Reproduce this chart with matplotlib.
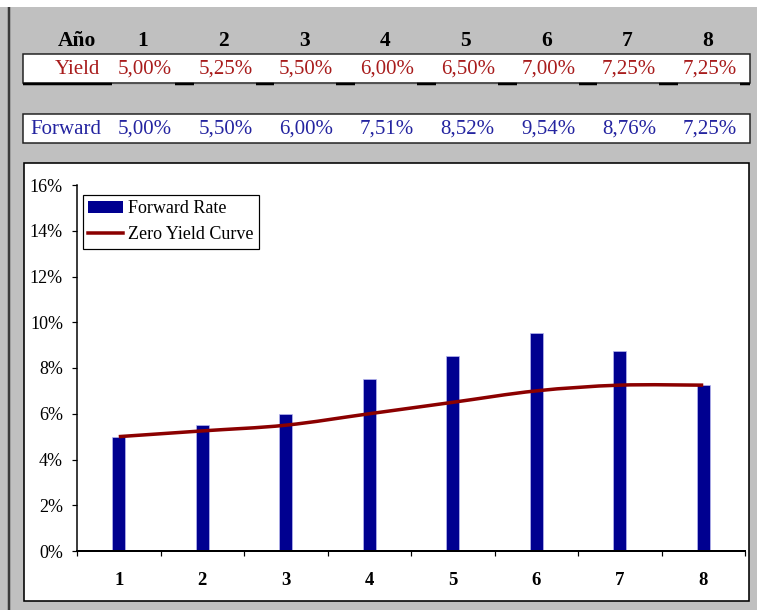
import numpy as np
import matplotlib
matplotlib.use("Agg")
import matplotlib.pyplot as plt
from matplotlib.patches import Rectangle, PathPatch
from matplotlib.path import Path
from matplotlib.lines import Line2D

# Data
years = [1, 2, 3, 4, 5, 6, 7, 8]
yield_pct = [5.00, 5.25, 5.50, 6.00, 6.50, 7.00, 7.25, 7.25]
forward_pct = [5.00, 5.50, 6.00, 7.51, 8.52, 9.54, 8.76, 7.25]
y_ticks = [0, 2, 4, 6, 8, 10, 12, 14, 16]

SERIF = ["Liberation Serif", "DejaVu Serif"]
BAR_COLOR = "#000090"
LINE_COLOR = "#8b0000"
RED_TXT = "#a81c1c"
BLUE_TXT = "#2424a0"
GRAY = "#c0c0c0"

W, H = 757, 610
PX = 0.72  # points per pixel at dpi 100


def pct(v):
    return f"{v:.2f}%".replace(".", ",")


fig = plt.figure(figsize=(W / 100, H / 100), dpi=100, facecolor=GRAY)

# Background layer in pixel coordinates (sheet, table cells, chart frame)
bg = fig.add_axes([0, 0, 1, 1], zorder=0)
bg.set_xlim(0, W)
bg.set_ylim(H, 0)
bg.axis("off")

bg.add_patch(Rectangle((0, 0), W, 7, facecolor="white", edgecolor="none"))
bg.plot([9, 9], [7, H], color="#3a3a3a", lw=2.5 * PX, solid_capstyle="butt")

# Table geometry
x0, x1 = 23, 750
cell0 = 113
step = 80.7
ncol = len(years)

# Header row
hdr_kw = dict(family=SERIF, fontsize=15.5, fontweight="bold", color="black",
              ha="center", va="center")
bg.text(77, 41, "Año", **hdr_kw)
for i, yr in enumerate(years):
    bg.text(143 + step * i, 41, str(yr), **hdr_kw)

# Yield row
bg.add_patch(Rectangle((x0, 54), x1 - x0, 29, facecolor="white",
                       edgecolor="#202020", lw=1.5 * PX, zorder=2))
bg.plot([x0, cell0 - 1], [83.5, 83.5], color="black", lw=2.5 * PX,
        solid_capstyle="butt", zorder=3)
for i in range(ncol):
    s = cell0 + step * i
    bg.plot([s, s + 62], [83, 83], color="#505050", lw=1.2 * PX,
            solid_capstyle="butt", zorder=3)
    bg.plot([s + 62, min(s + step, x1)], [84, 84], color="black",
            lw=2.5 * PX, solid_capstyle="butt", zorder=3)

row_kw = dict(family=SERIF, fontsize=15, va="center")
bg.text(100, 69, "Yield", ha="right", color=RED_TXT, **row_kw)
for i, v in enumerate(yield_pct):
    bg.text(172 + step * i, 69, pct(v), ha="right", color=RED_TXT, **row_kw)

# Forward row
bg.add_patch(Rectangle((x0, 114), x1 - x0, 29, facecolor="white",
                       edgecolor="#202020", lw=1.5 * PX, zorder=2))
bg.text(30, 129, "Forward", ha="left", color=BLUE_TXT, **row_kw)
for i, v in enumerate(forward_pct):
    bg.text(172 + step * i, 129, pct(v), ha="right", color=BLUE_TXT, **row_kw)

# Chart frame
bg.add_patch(Rectangle((24, 163), 725, 438, facecolor="white",
                       edgecolor="black", lw=1.6 * PX, zorder=2))

# Chart axes
ax = fig.add_axes([77 / W, (H - 551) / H, (745 - 77) / W, (551 - 185) / H],
                  zorder=1)
ax.patch.set_visible(False)

ax.bar(years, forward_pct, width=0.16, color=BAR_COLOR, edgecolor="#b8b8f0",
       linewidth=0.5, zorder=2, label="Forward Rate")

# Smoothed yield curve (cubic Bezier through each point)
xs = np.array(years, dtype=float)
ys = np.array(yield_pct, dtype=float)
verts = [(xs[0], ys[0])]
codes = [Path.MOVETO]
n = len(xs)
for i in range(n - 1):
    p0 = (xs[max(i - 1, 0)], ys[max(i - 1, 0)])
    p1 = (xs[i], ys[i])
    p2 = (xs[i + 1], ys[i + 1])
    p3 = (xs[min(i + 2, n - 1)], ys[min(i + 2, n - 1)])
    c1 = (p1[0] + (p2[0] - p0[0]) / 6, p1[1] + (p2[1] - p0[1]) / 6)
    c2 = (p2[0] - (p3[0] - p1[0]) / 6, p2[1] - (p3[1] - p1[1]) / 6)
    verts += [c1, c2, p2]
    codes += [Path.CURVE4] * 3
ax.add_patch(PathPatch(Path(verts, codes), facecolor="none",
                       edgecolor=LINE_COLOR, lw=3.5 * PX, zorder=3,
                       capstyle="butt"))

ax.set_xlim(0.5, len(years) + 0.5)
ax.set_ylim(y_ticks[0], y_ticks[-1])

ax.set_xticks(np.arange(0.5, len(years) + 1, 1.0))
ax.set_xticklabels([])
ax.set_xticks(years, minor=True)
ax.set_xticklabels([str(y) for y in years], minor=True, family=SERIF,
                   fontsize=13.5, fontweight="bold")
ax.tick_params(axis="x", which="major", direction="out", length=5 * PX,
               width=1.2 * PX, color="black")
ax.tick_params(axis="x", which="minor", length=0, pad=15)

ax.set_yticks(y_ticks)
ax.set_yticklabels([f"{t}%" for t in y_ticks], family=SERIF, fontsize=13)
ax.tick_params(axis="y", direction="out", length=5 * PX, width=1.2 * PX,
               pad=9 * PX, color="black")

for side in ("top", "right"):
    ax.spines[side].set_visible(False)
ax.spines["left"].set_linewidth(1.5 * PX)
ax.spines["bottom"].set_linewidth(2 * PX)

handles = [Rectangle((0, 0), 1, 1, facecolor=BAR_COLOR, edgecolor="none"),
           Line2D([0], [0], color=LINE_COLOR, lw=3.5 * PX)]
leg = ax.legend(handles, ["Forward Rate", "Zero Yield Curve"],
                loc="upper left", bbox_to_anchor=(83 / W, 1 - 195 / H),
                bbox_transform=fig.transFigure, borderaxespad=0,
                prop={"family": SERIF, "size": 13}, frameon=True,
                fancybox=False, edgecolor="black", framealpha=1,
                handlelength=1.9, handletextpad=0.3, labelspacing=0.5,
                borderpad=0.3)
leg.get_frame().set_linewidth(1.2 * PX)

fig.savefig("out.png", dpi=100, facecolor=GRAY)
